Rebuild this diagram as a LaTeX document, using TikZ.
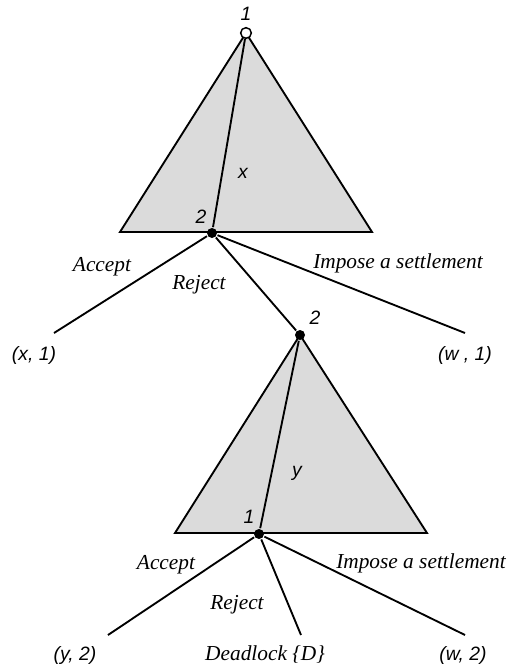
\documentclass[tikz,border=0pt]{standalone}
\usepackage{fontspec}
\setmainfont{Liberation Serif}
\setsansfont{Liberation Sans}

\begin{document}
\begin{tikzpicture}[x=0.75pt,y=-0.75pt,line width=1.4pt,
  tri/.style={fill=black!14,draw=black},
  dec/.style={circle,fill=black,inner sep=0pt,minimum size=7.5pt},
  root/.style={circle,draw=black,fill=white,line width=1.1pt,inner sep=0pt,minimum size=8pt},
  act/.style={font=\fontsize{16}{18}\selectfont\itshape},
  pay/.style={font=\fontsize{14.5}{16}\selectfont\sffamily\itshape}]
\useasboundingbox (0,0) rectangle (507,667);
\coordinate (a1) at (246,33); \coordinate (l1) at (120,232); \coordinate (r1) at (372,232);
\filldraw[tri] (a1)--(l1)--(r1)--cycle;
\coordinate (a2) at (300,335); \coordinate (l2) at (175,533); \coordinate (r2) at (427,533);
\filldraw[tri] (a2)--(l2)--(r2)--cycle;
% decision nodes
\node[root] (p1) at (a1) {};
\node[dec] (p2) at (212,233) {};
\node[dec] (p3) at (a2) {};
\node[dec] (p4) at (259,534) {};
\draw (p1)--(p2) (p3)--(p4);
% first stage
\coordinate (e1) at (54,333); \coordinate (e2) at (465,333);
\draw (p2)--(e1) (p2)--(p3) (p2)--(e2);
\node[pay] (t1) at (246,14) {1};
\node[pay] (t2) at (201,217) {2};
\node[pay] (tx) at (243,173) {x};
\node[act] (acc1) at (102,267) {Accept};
\node[act] (rej1) at (199,285) {Reject};
\node[act] (imp1) at (398,263) {Impose a settlement};
\node[pay] (o1) at (34,355) {(x, 1)};
\node[pay] (o2) at (465,355) {(w , 1)};
\node[pay] (t3) at (315,318) {2};
% second stage
\coordinate (e3) at (108,635); \coordinate (e4) at (301,635); \coordinate (e5) at (465,635);
\draw (p4)--(e3) (p4)--(e4) (p4)--(e5);
\node[pay] (ty) at (297,473) {y};
\node[pay] (t4) at (249,517) {1};
\node[act] (acc2) at (166,565) {Accept};
\node[act] (rej2) at (237,605) {Reject};
\node[act] (imp2) at (421,563) {Impose a settlement};
\node[pay] (o3) at (75,655) {(y, 2)};
\node[act] (o4) at (265,655) {Deadlock \{D\}};
\node[pay] (o5) at (463,655) {(w, 2)};
\end{tikzpicture}
\end{document}
